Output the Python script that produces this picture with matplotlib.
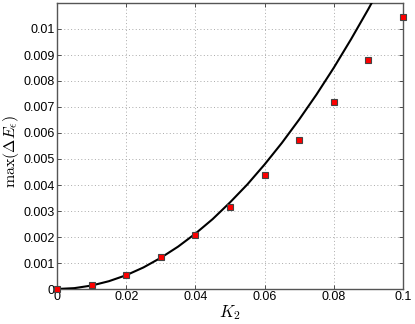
import numpy as np
import matplotlib
matplotlib.use('Agg')
import matplotlib.pyplot as plt

# measured points
k2_data = [0.0, 0.01, 0.02, 0.03, 0.04, 0.05, 0.06, 0.07, 0.08, 0.09, 0.1]
dE_data = [0.0, 0.00015, 0.00055, 0.00122, 0.00208, 0.00315,
           0.00437, 0.00572, 0.0072, 0.0088, 0.01047]

# reference curve
k2_curve = [0.0, 0.005, 0.01, 0.015, 0.02, 0.025, 0.03, 0.035, 0.04, 0.045,
            0.05, 0.055, 0.06, 0.065, 0.07, 0.075, 0.08, 0.085, 0.09, 0.095]
dE_curve = [0.0, 0.000033, 0.000133, 0.0003, 0.00053, 0.00083, 0.0012,
            0.00163, 0.00213, 0.00269, 0.00333, 0.00402, 0.00479, 0.00562,
            0.00652, 0.00748, 0.00851, 0.00961, 0.01077, 0.0120]

xticks = [0, 0.02, 0.04, 0.06, 0.08, 0.1]
yticks = [0, 0.001, 0.002, 0.003, 0.004, 0.005, 0.006, 0.007, 0.008, 0.009, 0.01]

plt.rcParams['font.family'] = ['Liberation Sans', 'DejaVu Sans']
plt.rcParams['mathtext.fontset'] = 'cm'

fig = plt.figure(figsize=(4.15, 3.24), dpi=100)
ax = fig.add_axes([57 / 415, 35 / 324, 346 / 415, 286 / 324])

ax.plot(k2_curve, dE_curve, color='black', lw=1.5, zorder=3)
ax.plot(k2_data, dE_data, linestyle='none', marker='s', markersize=5,
        markerfacecolor='red', markeredgecolor='#444444', markeredgewidth=0.8,
        zorder=4, clip_on=False)

ax.set_xlim(0, 0.1)
ax.set_ylim(0, 0.011)
ax.set_xticks(xticks)
ax.set_yticks(yticks)
ax.set_xticklabels(['%g' % t for t in xticks], fontsize=9)
ax.set_yticklabels(['%g' % t for t in yticks], fontsize=9)
ax.tick_params(direction='in', top=True, right=True, length=3, width=0.6,
               pad=1.5, colors='#333333', labelcolor='black')

ax.grid(True, linestyle=(0, (1, 2.5)), color='#aaaaaa', lw=0.7)
for sp in ax.spines.values():
    sp.set_color('#555555')
    sp.set_linewidth(1.0)

ax.set_xlabel(r'$K_2$', fontsize=12, labelpad=0)
ax.set_ylabel(r'$\max(\Delta E_\epsilon)$', fontsize=11.5)
ax.yaxis.set_label_coords(-0.105, 0.48)

fig.savefig('out.png', dpi=100)
